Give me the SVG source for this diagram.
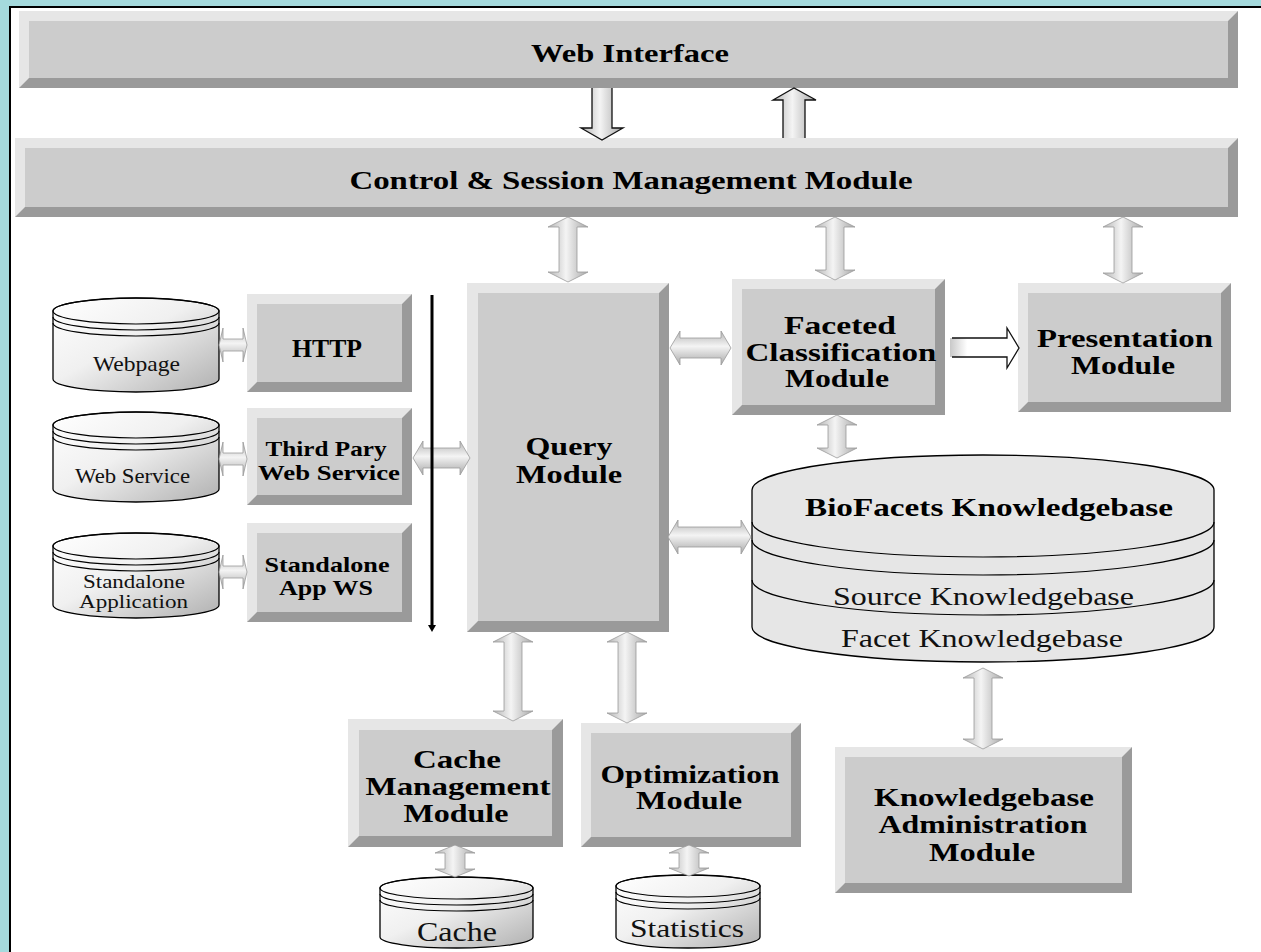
<svg xmlns="http://www.w3.org/2000/svg" width="1261" height="952" viewBox="0 0 1261 952">
<style>
.lt{fill:#e6e6e6}
.dk{fill:#9a9a9a}
.fc{fill:#cccccc}
.b{font-family:"Liberation Serif","Times New Roman",serif;font-weight:bold;font-size:26px;fill:#000;text-anchor:middle}
.r{font-family:"Liberation Serif","Times New Roman",serif;font-size:21px;fill:#111;text-anchor:middle}
.cyl{fill:url(#cylG);stroke:#000;stroke-width:1.3}
.arc{fill:none;stroke:#000;stroke-width:1.2}
.kb{fill:#e6e6e6;stroke:#000;stroke-width:1.3}
.va{fill:url(#vG);stroke:#9a9a9a;stroke-width:0.8}
.ha{fill:url(#hG);stroke:#9a9a9a;stroke-width:0.8}
.bo{fill:none;stroke:#111;stroke-width:1.3}
</style>
<defs>
<linearGradient id="vG" x1="0" y1="0" x2="1" y2="0">
<stop offset="0" stop-color="#b4b4b4"/><stop offset="0.45" stop-color="#f4f4f4"/><stop offset="1" stop-color="#a8a8a8"/>
</linearGradient>
<linearGradient id="hG" x1="0" y1="0" x2="0" y2="1">
<stop offset="0" stop-color="#b4b4b4"/><stop offset="0.45" stop-color="#f4f4f4"/><stop offset="1" stop-color="#a8a8a8"/>
</linearGradient>
<linearGradient id="cylG" x1="0" y1="0" x2="1" y2="1">
<stop offset="0" stop-color="#ffffff"/><stop offset="0.45" stop-color="#f0f0f0"/><stop offset="1" stop-color="#b0b0b0"/>
</linearGradient>
<linearGradient id="rG" x1="0" y1="0" x2="1" y2="0">
<stop offset="0" stop-color="#c8c8c8"/><stop offset="0.25" stop-color="#ffffff"/><stop offset="1" stop-color="#ffffff"/>
</linearGradient>
</defs>

<rect x="0" y="0" width="1261" height="952" fill="#a5dadd"/>
<rect x="10" y="7" width="1262" height="960" fill="#ffffff" stroke="#000" stroke-width="2"/>

<g id="web-interface">
<rect class="lt" x="19" y="11" width="1219" height="77"/>
<polygon class="dk" points="1238,11 1238,88 19,88 29,78 1228,78 1228,21"/>
<rect class="fc" x="29" y="21" width="1199" height="57"/>
<text class="b" x="630" y="62" textLength="198" lengthAdjust="spacingAndGlyphs">Web Interface</text>
</g>

<g id="control">
<rect class="lt" x="15" y="138" width="1223" height="79"/>
<polygon class="dk" points="1238,138 1238,217 15,217 25,207 1228,207 1228,148"/>
<rect class="fc" x="25" y="148" width="1203" height="59"/>
<text class="b" x="631" y="189" textLength="563" lengthAdjust="spacingAndGlyphs">Control &amp; Session Management Module</text>
</g>

<g id="http">
<rect class="lt" x="247" y="294" width="165" height="98"/>
<polygon class="dk" points="412,294 412,392 247,392 257,382 402,382 402,304"/>
<rect class="fc" x="257" y="304" width="145" height="78"/>
<text class="b" x="327" y="357" textLength="70" lengthAdjust="spacingAndGlyphs">HTTP</text>
</g>

<g id="third-party">
<rect class="lt" x="247" y="408" width="165" height="97"/>
<polygon class="dk" points="412,408 412,505 247,505 257,495 402,495 402,418"/>
<rect class="fc" x="257" y="418" width="145" height="77"/>
<text class="b" x="326" y="456" style="font-size:22px" textLength="121" lengthAdjust="spacingAndGlyphs">Third Pary</text>
<text class="b" x="329" y="480" style="font-size:22px" textLength="142" lengthAdjust="spacingAndGlyphs">Web Service</text>
</g>

<g id="standalone-ws">
<rect class="lt" x="247" y="523" width="165" height="99"/>
<polygon class="dk" points="412,523 412,622 247,622 257,612 402,612 402,533"/>
<rect class="fc" x="257" y="533" width="145" height="79"/>
<text class="b" x="327" y="572" style="font-size:22px" textLength="125" lengthAdjust="spacingAndGlyphs">Standalone</text>
<text class="b" x="326" y="595" style="font-size:22px" textLength="94" lengthAdjust="spacingAndGlyphs">App WS</text>
</g>

<g id="query">
<rect class="lt" x="467" y="283" width="202" height="349"/>
<polygon class="dk" points="669,283 669,632 467,632 478,621 659,621 659,293"/>
<rect class="fc" x="478" y="293" width="181" height="328"/>
<text class="b" x="569" y="455" textLength="87" lengthAdjust="spacingAndGlyphs">Query</text>
<text class="b" x="569" y="483" textLength="106" lengthAdjust="spacingAndGlyphs">Module</text>
</g>

<g id="faceted">
<rect class="lt" x="732" y="279" width="213" height="136"/>
<polygon class="dk" points="945,279 945,415 732,415 742,405 935,405 935,289"/>
<rect class="fc" x="742" y="289" width="193" height="116"/>
<text class="b" x="840" y="334" style="font-size:25px" textLength="112" lengthAdjust="spacingAndGlyphs">Faceted</text>
<text class="b" x="841" y="361" style="font-size:25px" textLength="191" lengthAdjust="spacingAndGlyphs">Classification</text>
<text class="b" x="837" y="387" style="font-size:25px" textLength="104" lengthAdjust="spacingAndGlyphs">Module</text>
</g>

<g id="presentation">
<rect class="lt" x="1018" y="283" width="213" height="129"/>
<polygon class="dk" points="1231,283 1231,412 1018,412 1028,402 1221,402 1221,293"/>
<rect class="fc" x="1028" y="293" width="193" height="109"/>
<text class="b" x="1125" y="347" textLength="176" lengthAdjust="spacingAndGlyphs">Presentation</text>
<text class="b" x="1123" y="374" textLength="104" lengthAdjust="spacingAndGlyphs">Module</text>
</g>

<g id="cache-mgmt">
<rect class="lt" x="348" y="719" width="215" height="128"/>
<polygon class="dk" points="563,719 563,847 348,847 359,836 552,836 552,730"/>
<rect class="fc" x="359" y="730" width="193" height="106"/>
<text class="b" x="457" y="768" textLength="88" lengthAdjust="spacingAndGlyphs">Cache</text>
<text class="b" x="458" y="795" textLength="185" lengthAdjust="spacingAndGlyphs">Management</text>
<text class="b" x="456" y="822" textLength="105" lengthAdjust="spacingAndGlyphs">Module</text>
</g>

<g id="optimization">
<rect class="lt" x="581" y="723" width="220" height="124"/>
<polygon class="dk" points="801,723 801,847 581,847 591,837 791,837 791,733"/>
<rect class="fc" x="591" y="733" width="200" height="104"/>
<text class="b" x="690" y="783" style="font-size:25px" textLength="179" lengthAdjust="spacingAndGlyphs">Optimization</text>
<text class="b" x="689" y="809" style="font-size:25px" textLength="106" lengthAdjust="spacingAndGlyphs">Module</text>
</g>

<g id="kb-admin">
<rect class="lt" x="835" y="747" width="297" height="146"/>
<polygon class="dk" points="1132,747 1132,893 835,893 845,883 1122,883 1122,757"/>
<rect class="fc" x="845" y="757" width="277" height="126"/>
<text class="b" x="984" y="806" textLength="220" lengthAdjust="spacingAndGlyphs">Knowledgebase</text>
<text class="b" x="983" y="833" textLength="209" lengthAdjust="spacingAndGlyphs">Administration</text>
<text class="b" x="982" y="861" textLength="106" lengthAdjust="spacingAndGlyphs">Module</text>
</g>

<g id="webpage">
<path class="cyl" d="M53 311 L53 379 A83 13 0 0 0 219 379 L219 311 A83 13 0 0 0 53 311 Z"/>
<ellipse class="arc" cx="136" cy="311" rx="83" ry="13"/>
<path class="arc" d="M53 317 A83 13 0 0 0 219 317 M53 323 A83 13 0 0 0 219 323"/>
<text class="r" x="136.5" y="371" textLength="87" lengthAdjust="spacingAndGlyphs">Webpage</text>
</g>

<g id="web-service">
<path class="cyl" d="M53 425 L53 489 A83 13 0 0 0 219 489 L219 425 A83 13 0 0 0 53 425 Z"/>
<ellipse class="arc" cx="136" cy="425" rx="83" ry="13"/>
<path class="arc" d="M53 431 A83 13 0 0 0 219 431 M53 437 A83 13 0 0 0 219 437"/>
<text class="r" x="132.5" y="483" textLength="115" lengthAdjust="spacingAndGlyphs">Web Service</text>
</g>

<g id="standalone-app">
<path class="cyl" d="M53 546 L53 605 A83 13 0 0 0 219 605 L219 546 A83 13 0 0 0 53 546 Z"/>
<ellipse class="arc" cx="136" cy="546" rx="83" ry="13"/>
<path class="arc" d="M53 552 A83 13 0 0 0 219 552 M53 558 A83 13 0 0 0 219 558"/>
<text class="r" x="134" y="588" style="font-size:19px" textLength="102" lengthAdjust="spacingAndGlyphs">Standalone</text>
<text class="r" x="133.5" y="608" style="font-size:19px" textLength="109" lengthAdjust="spacingAndGlyphs">Application</text>
</g>

<g id="knowledgebase">
<path class="kb" d="M752 490 L752 627 A231 35 0 0 0 1214 627 L1214 490 A231 35 0 0 0 752 490 Z"/>
<path class="arc" d="M752 522 A231 35 0 0 0 1214 522 M752 540 A231 35 0 0 0 1214 540 M752 580 A231 35 0 0 0 1214 580"/>
<text class="b" x="989" y="516" textLength="368" lengthAdjust="spacingAndGlyphs">BioFacets Knowledgebase</text>
<text class="r" x="983.5" y="605" style="font-size:25px" textLength="301" lengthAdjust="spacingAndGlyphs">Source Knowledgebase</text>
<text class="r" x="982" y="647" style="font-size:25px" textLength="282" lengthAdjust="spacingAndGlyphs">Facet Knowledgebase</text>
</g>

<g id="cache">
<path class="cyl" d="M380 888 L380 937 A76.5 11 0 0 0 533 937 L533 888 A76.5 11 0 0 0 380 888 Z"/>
<ellipse class="arc" cx="456.5" cy="888" rx="76.5" ry="11"/>
<path class="arc" d="M380 894 A76.5 11 0 0 0 533 894 M380 900 A76.5 11 0 0 0 533 900"/>
<text class="r" x="457" y="941" style="font-size:27px" textLength="80" lengthAdjust="spacingAndGlyphs">Cache</text>
</g>

<g id="statistics">
<path class="cyl" d="M616 886 L616 937 A72 11 0 0 0 760 937 L760 886 A72 11 0 0 0 616 886 Z"/>
<ellipse class="arc" cx="688" cy="886" rx="72" ry="11"/>
<path class="arc" d="M616 892 A72 11 0 0 0 760 892 M616 898 A72 11 0 0 0 760 898"/>
<text class="r" x="687" y="937" style="font-size:26px" textLength="114" lengthAdjust="spacingAndGlyphs">Statistics</text>
</g>

<g id="connectors">
<path d="M592 88 L612 88 L612 128 L623 128 L602 140 L581 128 L592 128 Z" fill="url(#vG)"/>
<path class="bo" d="M592 88 L592 128 L581 128 L602 140 L623 128 L612 128 L612 88"/>
<path d="M783 138 L783 100 L773 100 L794 88 L816 100 L805 100 L805 138 Z" fill="url(#vG)"/>
<path class="bo" d="M783 138 L783 100 L773 100 L794 88 L816 100 L805 100 L805 138"/>
<path class="va" d="M568 217 L588 227 L577 227 L577 272 L588 272 L568 282 L548 272 L559 272 L559 227 L548 227 Z"/>
<path class="va" d="M835 217 L855 227 L844 227 L844 270 L855 270 L835 280 L815 270 L826 270 L826 227 L815 227 Z"/>
<path class="va" d="M1123 217 L1143 227 L1132 227 L1132 273 L1143 273 L1123 283 L1103 273 L1114 273 L1114 227 L1103 227 Z"/>
<path class="va" d="M837 415 L857 425 L846 425 L846 448 L857 448 L837 458 L817 448 L828 448 L828 425 L817 425 Z"/>
<path class="va" d="M513 632 L533 642 L522 642 L522 711 L533 711 L513 721 L493 711 L504 711 L504 642 L493 642 Z"/>
<path class="va" d="M627 632 L647 642 L636 642 L636 713 L647 713 L627 723 L607 713 L618 713 L618 642 L607 642 Z"/>
<path class="va" d="M983 668 L1003 678 L992 678 L992 739 L1003 739 L983 749 L963 739 L974 739 L974 678 L963 678 Z"/>
<path class="va" d="M455 845 L475 853 L465 853 L465 869 L475 869 L455 877 L435 869 L445 869 L445 853 L435 853 Z"/>
<path class="va" d="M689 845 L709 853 L699 853 L699 868 L709 868 L689 876 L669 868 L679 868 L679 853 L669 853 Z"/>
<path class="ha" d="M670 348 L680 331 L680 338 L721 338 L721 331 L731 348 L721 365 L721 358 L680 358 L680 365 Z"/>
<path class="ha" d="M668 537 L678 520 L678 527 L741 527 L741 520 L751 537 L741 554 L741 547 L678 547 L678 554 Z"/>
<path class="ha" d="M413 458 L423 441 L423 448 L460 448 L460 441 L470 458 L460 475 L460 468 L423 468 L423 475 Z"/>
<path class="ha" d="M219 345 L223 328 L223 339 L243 339 L243 328 L247 345 L243 362 L243 351 L223 351 L223 362 Z"/>
<path class="ha" d="M219 459 L223 442 L223 453 L243 453 L243 442 L247 459 L243 476 L243 465 L223 465 L223 476 Z"/>
<path class="ha" d="M219 572 L223 555 L223 566 L243 566 L243 555 L247 572 L243 589 L243 578 L223 578 L223 589 Z"/>
<path d="M950 338 L1007 338 L1007 328 L1019 348 L1007 368 L1007 357 L950 357 Z" fill="url(#rG)"/>
<path class="bo" d="M952 338 L1007 338 L1007 328 L1019 348 L1007 368 L1007 357 L952 357"/>
<line x1="432" y1="295" x2="432" y2="627" stroke="#000" stroke-width="3"/>
<polygon points="428,625 436,625 432,632" fill="#000"/>
</g>
</svg>
